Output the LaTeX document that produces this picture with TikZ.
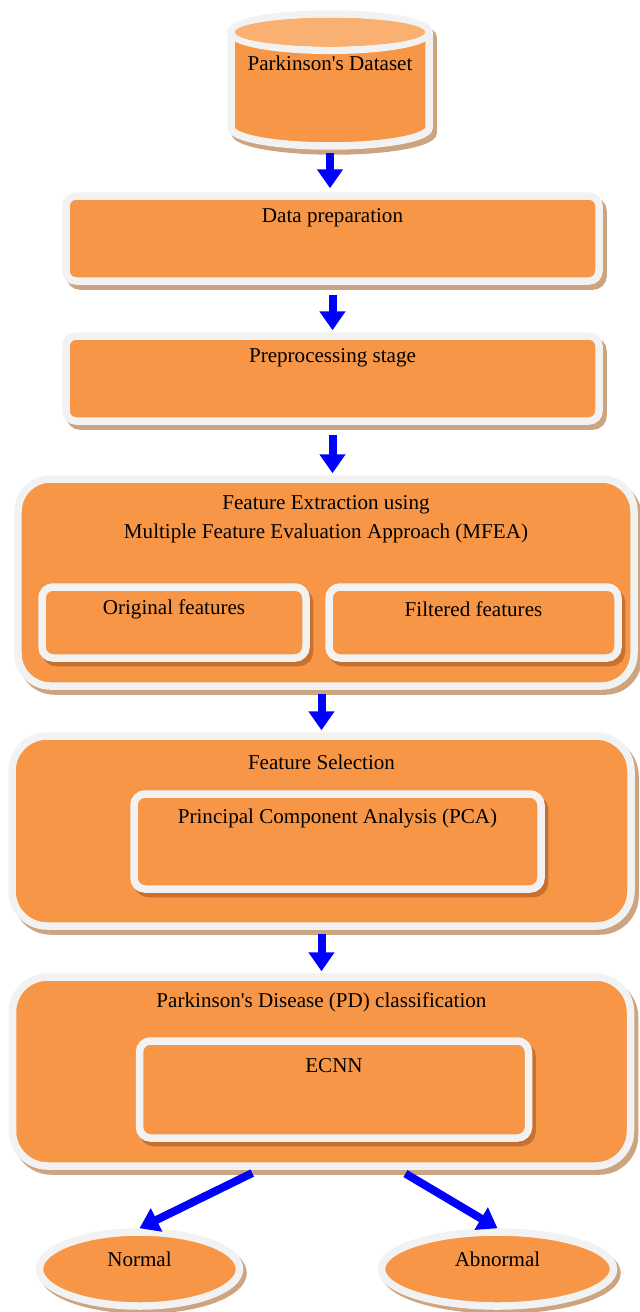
\documentclass[tikz,border=0pt]{standalone}
\usepackage{fontspec}
\setmainfont{Liberation Serif}[Ligatures=TeXOff]
\usetikzlibrary{shapes, shapes.geometric, arrows.meta, calc}
\definecolor{boxorange}{RGB}{247,150,70}
\definecolor{toporange}{RGB}{249,176,112}
\definecolor{edgegray}{RGB}{242,242,242}
\definecolor{shadowtan}{RGB}{204,164,128}
\definecolor{shadowdark}{RGB}{200,112,46}
\tikzstyle{block} =
        [
                rectangle,
                draw = edgegray,
                fill = boxorange,
                line width = 0.15cm,
                rounded corners = 0.2cm,
                preaction = {draw = shadowtan, fill = shadowtan,
                        transform canvas = {xshift = 0.08cm, yshift = -0.1cm}}
        ]
\tikzstyle{panel} =
        [
                block,
                rounded corners = 0.7cm
        ]
\tikzstyle{inner} =
        [
                rectangle,
                draw = edgegray,
                fill = boxorange,
                line width = 0.15cm,
                rounded corners = 0.22cm,
                preaction = {draw = shadowdark, fill = shadowdark,
                        transform canvas = {xshift = 0.07cm, yshift = -0.09cm}}
        ]
\tikzstyle{cloud} =
        [
                ellipse,
                draw = edgegray,
                fill = boxorange,
                line width = 0.15cm,
                minimum height = 1.48cm,
                preaction = {draw = shadowtan, fill = shadowtan,
                        transform canvas = {xshift = 0.07cm, yshift = -0.08cm}}
        ]
\tikzstyle{base} =
        [
                cylinder,
                shape border rotate = 90,
                aspect = 3.1,
                draw = edgegray,
                fill = boxorange,
                line width = 0.15cm,
                preaction = {draw = shadowtan, fill = shadowtan,
                        transform canvas = {xshift = 0.08cm, yshift = -0.1cm}}
        ]
\tikzstyle{title} =
        [
                font = \fontsize{12}{16}\selectfont,
                align = center,
                inner sep = 0pt
        ]
\tikzstyle{line} =
        [
                draw = blue,
                line width = 0.16cm,
                -{Triangle[width = 0.5cm, length = 0.38cm]}
        ]

\begin{document}
\begin{tikzpicture}
        \useasboundingbox (0,0) rectangle (12.8,-26.24);

        \coordinate (dbmid) at (6.6,-1.6);
        \node [base, anchor = shape center, minimum width = 3.96cm, minimum height = 2.64cm] (db) at (dbmid) {};
        \fill [toporange] let \p1 = (db.top), \p2 = ($(db.before top)!0.5!(db.after top)$) in
                (\p2) ellipse [x radius = 1.9cm, y radius = {\y1 - \y2 - 0.15cm}];
        \node [block, below of = dbmid, node distance = 3.17cm, xshift = 0.05cm,
               minimum width = 10.66cm, minimum height = 1.7cm] (prep) {};
        \node [block, below of = prep, node distance = 2.8cm,
               minimum width = 10.66cm, minimum height = 1.7cm] (pre) {};
        \node [panel, below of = pre, node distance = 4.08cm, xshift = -0.13cm,
               minimum width = 12.32cm, minimum height = 4.14cm, rounded corners = 0.65cm] (fe) {};
        \node [inner, below of = fe, node distance = 0.8cm, xshift = -3.04cm,
               minimum width = 5.28cm, minimum height = 1.42cm] (orig) {};
        \node [inner, right of = orig, node distance = 5.99cm,
               minimum width = 5.78cm, minimum height = 1.42cm] (filt) {};
        \node [panel, below of = fe, node distance = 4.97cm, xshift = -0.09cm,
               minimum width = 12.38cm, minimum height = 3.8cm] (fs) {};
        \node [inner, below of = fs, node distance = 0.21cm, xshift = 0.32cm,
               minimum width = 8.14cm, minimum height = 1.9cm] (pca) {};
        \node [panel, below of = fs, node distance = 4.81cm,
               minimum width = 12.36cm, minimum height = 3.78cm] (pd) {};
        \node [inner, below of = pd, node distance = 0.36cm, xshift = 0.25cm,
               minimum width = 7.78cm, minimum height = 1.94cm] (ecnn) {};
        \node [cloud, below of = pd, node distance = 3.95cm, xshift = -3.64cm,
               minimum width = 4cm] (normal) {};
        \node [cloud, right of = normal, node distance = 7.16cm,
               minimum width = 4.64cm] (abnormal) {};

        % titles
        \node [title] (dbtxt) at ([yshift = 0.34cm]dbmid) {Parkinson's Dataset};
        \node [title] (preptxt) at ([yshift = -0.52cm]prep.north) {Data preparation};
        \node [title] (pretxt) at ([yshift = -0.52cm]pre.north) {Preprocessing stage};
        \node [title] (fetxt) at ([yshift = -0.88cm]fe.north) {Feature Extraction using\\Multiple Feature Evaluation Approach (MFEA)};
        \node [title] (origtxt) at ([yshift = -0.52cm]orig.north) {Original features};
        \node [title] (filttxt) at ([yshift = -0.52cm]filt.north) {Filtered features};
        \node [title] (fstxt) at ([yshift = -0.6cm]fs.north) {Feature Selection};
        \node [title] (pcatxt) at ([yshift = -0.56cm]pca.north) {Principal Component Analysis (PCA)};
        \node [title] (pdtxt) at ([yshift = -0.58cm]pd.north) {Parkinson's Disease (PD) classification};
        \node [title] (ecnntxt) at ([yshift = -0.56cm]ecnn.north) {ECNN};
        \node [title] (normaltxt) at ([yshift = 0.2cm]normal.center) {Normal};
        \node [title] (abnormaltxt) at ([yshift = 0.2cm]abnormal.center) {Abnormal};

        \path [line, shorten <= 0.06cm, shorten >= 0.08cm] (db.south) -- (db.south |- prep.north);
        \path [line, shorten <= 0.2cm, shorten >= 0.04cm] (prep.south) -- (pre.north);
        \path [line, shorten <= 0.2cm, shorten >= 0.04cm] (pre.south) -- (pre.south |- fe.north);
        \path [line, shorten <= 0.08cm, shorten >= 0.04cm] (fs |- fe.south) -- (fs.north);
        \path [line, shorten <= 0.08cm, shorten >= 0.04cm] (pd |- fs.south) -- (pd.north);
        \path [line, shorten <= 0.15cm] ([xshift = -1.25cm]pd.south) -- (normal.north);
        \path [line, shorten <= 0.15cm] ([xshift = 1.55cm]pd.south) -- (abnormal.north);
\end{tikzpicture}
\end{document}
